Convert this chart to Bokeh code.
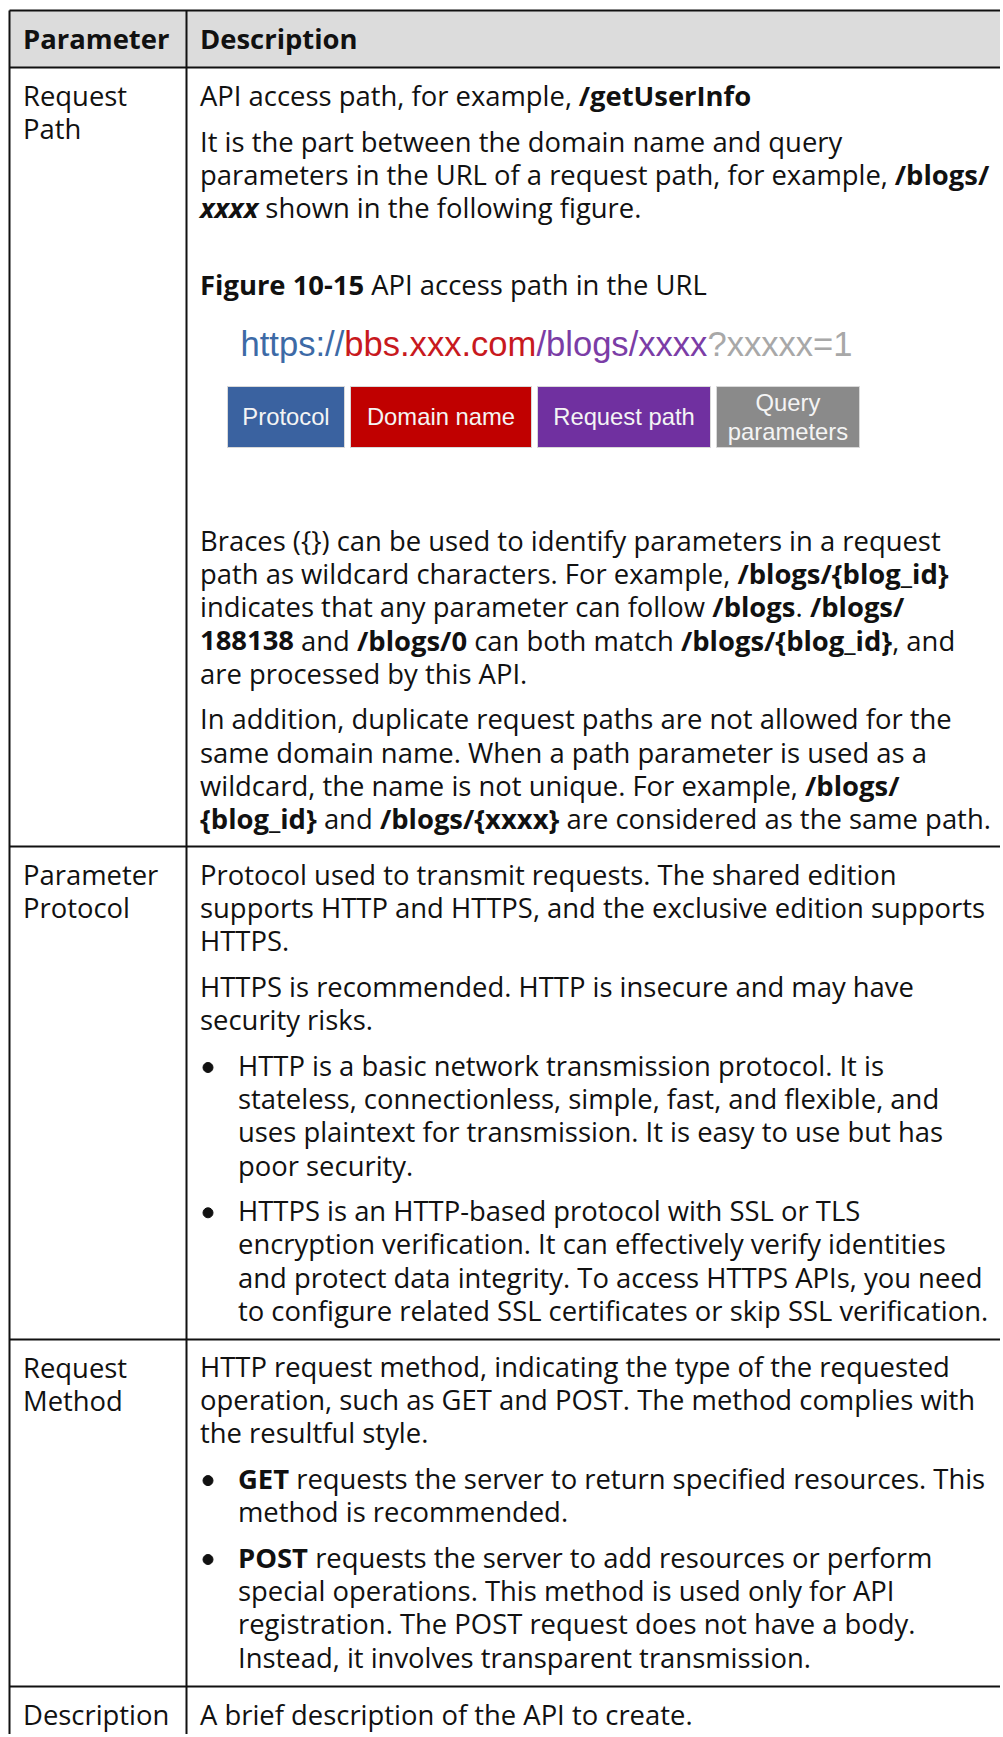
import os, glob, struct
from bokeh.plotting import figure
from bokeh.models import ColumnDataSource, Range1d
from bokeh.embed import file_html
from bokeh.resources import INLINE
from bokeh.core.properties import value, field

# ---------------------------------------------------------------- data
header_labels = ["Parameter", "Description"]
param_labels = [["Request", "Path"], ["Parameter", "Protocol"], ["Request", "Method"], ["Description"]]

row1_intro = [
    [("API access path, for example, ", "r"), ("/getUserInfo", "b")],
]
row1_part = [
    [("It is the part between the domain name and query", "r")],
    [("parameters in the URL of a request path, for example, ", "r"), ("/blogs/", "b")],
    [("xxxx", "bi"), (" shown in the following figure.", "r")],
]
figure_caption = [("Figure 10-15", "b"), (" API access path in the URL", "r")]
url_parts = ["https://", "bbs.xxx.com", "/blogs/xxxx", "?xxxxx=1"]
url_colors = ["#3d6aa6", "#c8191e", "#7b3da6", "#a8a8a8"]
box_labels = [["Protocol"], ["Domain name"], ["Request path"], ["Query", "parameters"]]
box_colors = ["#3a62a0", "#c00000", "#7030a0", "#8a8a8a"]
row1_braces = [
    [("Braces ({}) can be used to identify parameters in a request", "r")],
    [("path as wildcard characters. For example, ", "r"), ("/blogs/{blog_id}", "b")],
    [("indicates that any parameter can follow ", "r"), ("/blogs", "b"), (". ", "r"), ("/blogs/", "b")],
    [("188138", "b"), (" and ", "r"), ("/blogs/0", "b"), (" can both match ", "r"),
     ("/blogs/{blog_id}", "b"), (", and", "r")],
    [("are processed by this API.", "r")],
]
row1_dup = [
    [("In addition, duplicate request paths are not allowed for the", "r")],
    [("same domain name. When a path parameter is used as a", "r")],
    [("wildcard, the name is not unique. For example, ", "r"), ("/blogs/", "b")],
    [("{blog_id}", "b"), (" and ", "r"), ("/blogs/{xxxx}", "b"), (" are considered as the same path.", "r")],
]
row2_blocks = [
    ("p", [[("Protocol used to transmit requests. The shared edition", "r")],
           [("supports HTTP and HTTPS, and the exclusive edition supports", "r")],
           [("HTTPS.", "r")]]),
    ("p", [[("HTTPS is recommended. HTTP is insecure and may have", "r")],
           [("security risks.", "r")]]),
    ("bullet", [[("HTTP is a basic network transmission protocol. It is", "r")],
                [("stateless, connectionless, simple, fast, and flexible, and", "r")],
                [("uses plaintext for transmission. It is easy to use but has", "r")],
                [("poor security.", "r")]]),
    ("bullet", [[("HTTPS is an HTTP-based protocol with SSL or TLS", "r")],
                [("encryption verification. It can effectively verify identities", "r")],
                [("and protect data integrity. To access HTTPS APIs, you need", "r")],
                [("to configure related SSL certificates or skip SSL verification.", "r")]]),
]
row3_blocks = [
    ("p", [[("HTTP request method, indicating the type of the requested", "r")],
           [("operation, such as GET and POST. The method complies with", "r")],
           [("the resultful style.", "r")]]),
    ("bullet", [[("GET", "b"), (" requests the server to return specified resources. This", "r")],
                [("method is recommended.", "r")]]),
    ("bullet", [[("POST", "b"), (" requests the server to add resources or perform", "r")],
                [("special operations. This method is used only for API", "r")],
                [("registration. The POST request does not have a body.", "r")],
                [("Instead, it involves transparent transmission.", "r")]]),
]
row4_blocks = [
    ("p", [[("A brief description of the API to create.", "r")]]),
]

# ---------------------------------------------------------------- font metrics
FONT_ROOTS = ["/usr/share/fonts", "/usr/local/share/fonts",
              os.path.expanduser("~/.fonts"), os.path.expanduser("~/.local/share/fonts")]


def find_font_file(names):
    for n in names:
        for r in FONT_ROOTS:
            if os.path.isdir(r):
                hits = sorted(glob.glob(os.path.join(r, "**", n), recursive=True))
                if hits:
                    return hits[0]
    return None


class FontMetrics:
    def __init__(self, path, fallback_em=0.55, scale=1.0):
        self.fallback = fallback_em
        self.scale = scale
        self.adv = None
        if path:
            try:
                self._load(path)
            except Exception:
                self.adv = None

    def _load(self, path):
        data = open(path, "rb").read()
        u16 = lambda o: struct.unpack(">H", data[o:o + 2])[0]
        u32 = lambda o: struct.unpack(">I", data[o:o + 4])[0]
        base = u32(12) if data[:4] == b"ttcf" else 0
        n = u16(base + 4)
        tables = {}
        for i in range(n):
            rec = base + 12 + 16 * i
            tables[data[rec:rec + 4].decode("latin-1")] = u32(rec + 8)
        upem = u16(tables["head"] + 18)
        nh = u16(tables["hhea"] + 34)
        hm = tables["hmtx"]
        advs = [u16(hm + 4 * i) for i in range(nh)]
        cm = tables["cmap"]
        nsub = u16(cm + 2)
        sub = None
        for i in range(nsub):
            pid = u16(cm + 4 + 8 * i)
            eid = u16(cm + 6 + 8 * i)
            so = u32(cm + 8 + 8 * i)
            if u16(cm + so) == 4 and (pid == 0 or (pid == 3 and eid == 1)):
                sub = cm + so
                break
        segx2 = u16(sub + 6)
        seg = segx2 // 2
        ends = sub + 14
        starts = ends + segx2 + 2
        deltas = starts + segx2
        ranges = deltas + segx2
        adv = {}
        for i in range(seg):
            e = u16(ends + 2 * i)
            s = u16(starts + 2 * i)
            if s > 0x2FFF:
                continue
            d = u16(deltas + 2 * i)
            ro = u16(ranges + 2 * i)
            for c in range(s, min(e, 0x2FFF) + 1):
                if ro == 0:
                    g = (c + d) & 0xFFFF
                else:
                    g = u16(ranges + 2 * i + ro + 2 * (c - s))
                    if g:
                        g = (g + d) & 0xFFFF
                adv[c] = advs[min(g, nh - 1)] / upem
        self.adv = adv

    def em(self, s):
        if self.adv is None:
            return self.fallback * len(s) * self.scale
        return sum(self.adv.get(ord(ch), self.fallback) for ch in s) * self.scale


def load_family(candidates):
    for fam, reg, bold, bi in candidates:
        p = find_font_file([reg])
        if p:
            pb = find_font_file([bold])
            pbi = find_font_file([bi])
            mr = FontMetrics(p)
            mb = FontMetrics(pb) if pb else FontMetrics(p, scale=1.06)
            mbi = FontMetrics(pbi) if pbi else mb
            return fam, {"r": mr, "b": mb, "bi": mbi}
    fam = candidates[0][0]
    return fam, {"r": FontMetrics(None, 0.52), "b": FontMetrics(None, 0.56), "bi": FontMetrics(None, 0.56)}


BODY_FONT, MET = load_family([
    ("Noto Sans", "NotoSans-Regular.ttf", "NotoSans-Bold.ttf", "NotoSans-BoldItalic.ttf"),
    ("Open Sans", "OpenSans-Regular.ttf", "OpenSans-Bold.ttf", "OpenSans-BoldItalic.ttf"),
])

# body font size fitted to measured widths of long reference lines
refs = [("It is the part between the domain name and query", "r", 637),
        ("supports HTTP and HTTPS, and the exclusive edition supports", "r", 797),
        ("to configure related SSL certificates or skip SSL verification.", "r", 791),
        ("HTTP request method, indicating the type of the requested", "r", 748)]
FS = 0.985 * sum(w for _, _, w in refs) / sum(MET[s].em(t) for t, s, _ in refs)
FS = max(22.0, min(30.0, FS))

narrow_path = find_font_file(["LiberationSansNarrow-Regular.ttf"])
if narrow_path:
    FIG_FONT, FIG_MET = "Liberation Sans Narrow", FontMetrics(narrow_path, 0.45)
else:
    lp = find_font_file(["LiberationSans-Regular.ttf"])
    FIG_FONT, FIG_MET = "Liberation Sans", FontMetrics(lp, 0.55)
URL_X0, URL_X1, URL_BASE = 240, 852, 357
URL_FS = max(18.0, min(40.0, (URL_X1 - URL_X0) / FIG_MET.em("".join(url_parts))))

# ---------------------------------------------------------------- layout
TEXT_COLOR = "#111111"
LINE_COLOR = "#111111"
PITCH = 33.2
GAP = 12.5
FIRST = 29
RENDER_DROP = 0.38          # the renderer draws an "alphabetic" text this many ems lower
BASE_OFF = (0.34 - RENDER_DROP) * FS
X_LEFT = 22.5
X_DESC = 199.5
X_BULLET_TEXT = 237.5
X_BULLET = 207.5
ROW_TOPS = [10, 67, 846, 1339, 1686]
TABLE_LEFT, COL_DIV, TABLE_RIGHT, TABLE_BOTTOM = 9, 186, 1010, 1745

groups = {}


def add_run(x, y, text, style, color=TEXT_COLOR, font=None, size=None):
    font = font or BODY_FONT
    size = size or FS
    key = (font, style, round(size, 2))
    g = groups.setdefault(key, {"x": [], "y": [], "text": [], "color": []})
    g["x"].append(x)
    g["y"].append(y)
    g["text"].append(text)
    g["color"].append(color)


def add_line(runs, x0, yc, met=None, size=None, font=None, colors=None, y_is_text=False):
    x = x0
    for k, (text, style) in enumerate(runs):
        m = met or MET[style]
        sz = size or FS
        core = text.strip(" ")
        lead = len(text) - len(text.lstrip(" "))
        trail = len(text) - len(text.rstrip(" "))
        x += m.em(" " * lead) * sz
        if core:
            add_run(x, yc if y_is_text else yc + BASE_OFF, core, style,
                    color=(colors[k] if colors else TEXT_COLOR), font=font, size=sz)
        x += m.em(core) * sz + m.em(" " * trail) * sz


bullets_x, bullets_y = [], []


def layout_blocks(blocks, y0):
    y = y0
    for bi_, (kind, lines) in enumerate(blocks):
        if bi_:
            y += GAP
        for i, runs in enumerate(lines):
            x0 = X_DESC
            if kind == "bullet":
                x0 = X_BULLET_TEXT
                if i == 0:
                    bullets_x.append(X_BULLET)
                    bullets_y.append(y + 1)
            add_line(runs, x0, y)
            y += PITCH
    return y


# header
add_run(X_LEFT, 39 + BASE_OFF, header_labels[0], "b")
add_run(X_DESC, 39 + BASE_OFF, header_labels[1], "b")

# parameter column
for r, labels in enumerate(param_labels):
    for i, t in enumerate(labels):
        add_run(X_LEFT, ROW_TOPS[r + 1] + FIRST + i * PITCH + BASE_OFF, t, "r")

# description column
layout_blocks([("p", row1_intro), ("p", row1_part)], ROW_TOPS[1] + FIRST)
add_line(figure_caption, X_DESC, 285)
layout_blocks([("p", row1_braces), ("p", row1_dup)], 541)
layout_blocks(row2_blocks, ROW_TOPS[2] + FIRST)
layout_blocks(row3_blocks, ROW_TOPS[3] + FIRST - 1)
layout_blocks(row4_blocks, ROW_TOPS[4] + FIRST)

# URL picture
add_line([(t, "r") for t in url_parts], URL_X0, URL_BASE - RENDER_DROP * URL_FS, met=FIG_MET,
         size=URL_FS, font=FIG_FONT, colors=url_colors, y_is_text=True)

box_widths = [117, 181, 173, 143]
box_gap = 6
bl, br = [], []
bx = 227
for w in box_widths:
    bl.append(bx)
    br.append(bx + w)
    bx += w + box_gap
box_top, box_bottom = 386, 447
BOX_FS = min(24.0, min(0.84 * w / max(FIG_MET.em(t) for t in labels)
                       for w, labels in zip(box_widths, box_labels)))
box_src = ColumnDataSource(dict(left=bl, right=br, top=[box_top] * 4, bottom=[box_bottom] * 4,
                                color=box_colors))
box_text = {"x": [], "y": [], "text": []}
for l, r, labels in zip(bl, br, box_labels):
    cx = (l + r) / 2
    n = len(labels)
    for i, t in enumerate(labels):
        yc = (box_top + box_bottom) / 2 + (i - (n - 1) / 2) * 29
        box_text["x"].append(cx)
        box_text["y"].append(yc + (0.36 - RENDER_DROP) * BOX_FS)
        box_text["text"].append(t)

# ---------------------------------------------------------------- figure
W, H = 1000, 1734
p = figure(width=W, height=H, x_range=Range1d(0, W), y_range=Range1d(H, 0),
           output_backend="svg", toolbar_location=None, min_border=0,
           x_axis_location=None, y_axis_location=None, outline_line_color=None,
           background_fill_color="white", border_fill_color="white")
p.grid.visible = False

# header fill
p.quad(left=[TABLE_LEFT], right=[TABLE_RIGHT], top=[ROW_TOPS[0]], bottom=[ROW_TOPS[1]],
       fill_color="#dcdcdc", line_color=None)

# picture boxes
p.quad(left="left", right="right", top="top", bottom="bottom", source=box_src,
       fill_color="color", line_color="#d9d9d9", line_width=1)
p.text(x="x", y="y", text="text", source=ColumnDataSource(box_text),
       text_font=value(FIG_FONT), text_font_size=f"{BOX_FS:.1f}px", text_color="#f4f4f4",
       text_align="center", text_baseline="alphabetic")

# borders
hy = ROW_TOPS
p.segment(x0=[TABLE_LEFT] * len(hy), x1=[TABLE_RIGHT] * len(hy), y0=hy, y1=hy,
          line_color=LINE_COLOR, line_width=2)
p.segment(x0=[TABLE_LEFT, COL_DIV], x1=[TABLE_LEFT, COL_DIV], y0=[ROW_TOPS[0]] * 2,
          y1=[TABLE_BOTTOM] * 2, line_color=LINE_COLOR, line_width=2)

# text runs
style_map = {"r": "normal", "b": "bold", "bi": "bold italic"}
for (font, style, size), g in groups.items():
    p.text(x="x", y="y", text="text", source=ColumnDataSource(g),
           text_font=value(font), text_font_style=style_map[style],
           text_font_size=f"{size:.2f}px", text_color=field("color"),
           text_align="left", text_baseline="alphabetic")

# bullets
p.scatter(x=bullets_x, y=bullets_y, marker="circle", size=10, color=TEXT_COLOR)

open("out.html", "w").write(file_html(p, INLINE))
